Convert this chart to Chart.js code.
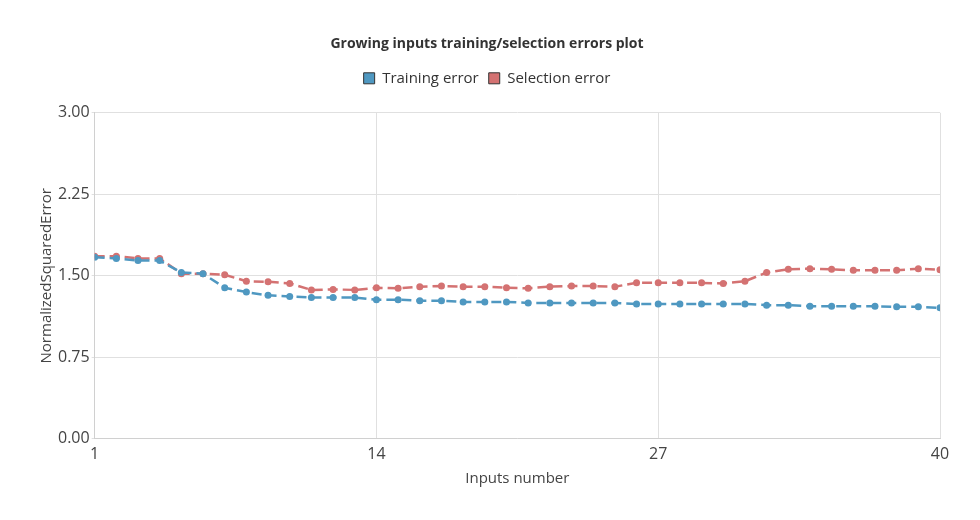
<!DOCTYPE html>
<html>
<head>
<meta charset="utf-8">
<script src="https://cdn.jsdelivr.net/npm/chart.js@4/dist/chart.umd.min.js"></script>
<style>
  html, body { margin: 0; padding: 0; background: #fff; }
  #wrap { width: 980px; height: 520px; }
</style>
</head>
<body>
<div id="wrap"><canvas id="errChart"></canvas></div>
<script>
const inputs = [];
for (let i = 1; i <= 40; i++) inputs.push(i);

const trainingError = [1.67,1.66,1.64,1.64,1.53,1.52,1.39,1.35,1.32,1.31,1.30,1.30,1.30,1.28,
  1.28,1.27,1.27,1.26,1.26,1.26,1.25,1.25,1.25,1.25,1.25,1.24,1.24,1.24,1.24,1.24,1.24,
  1.23,1.23,1.22,1.22,1.22,1.22,1.215,1.215,1.205];
const selectionError = [1.68,1.68,1.66,1.66,1.52,1.52,1.51,1.45,1.445,1.43,1.37,1.375,1.37,1.39,
  1.385,1.40,1.405,1.40,1.40,1.39,1.385,1.40,1.405,1.405,1.40,1.435,1.435,1.435,1.435,1.43,1.45,
  1.53,1.56,1.565,1.56,1.55,1.55,1.55,1.565,1.555];
const yTicks = [0, 0.75, 1.5, 2.25, 3];

const blue = "#4f98c1";
const red = "#d47272";

Chart.defaults.font.family = "'Open Sans', 'Noto Sans', sans-serif";
Chart.defaults.color = "#444";

// extra gap under the legend
const legendGap = {
  id: "legendGap",
  beforeInit(chart) {
    const fit = chart.legend.fit;
    chart.legend.fit = function () { fit.call(this); this.height += 17; };
  }
};

new Chart(document.getElementById("errChart"), {
  type: "line",
  data: {
    labels: inputs,
    datasets: [
      { label: "Training error", data: inputs.map((x, i) => ({ x: x, y: trainingError[i] })),
        borderColor: blue, backgroundColor: blue, borderWidth: 2.5, borderDash: [10, 5],
        pointRadius: 3.5, pointBorderWidth: 0, tension: 0 },
      { label: "Selection error", data: inputs.map((x, i) => ({ x: x, y: selectionError[i] })),
        borderColor: red, backgroundColor: red, borderWidth: 2.5, borderDash: [10, 5],
        pointRadius: 3.5, pointBorderWidth: 0, tension: 0 }
    ]
  },
  plugins: [legendGap],
  options: {
    responsive: true, maintainAspectRatio: false, animation: false,
    layout: { padding: { left: 34, right: 40, top: 36, bottom: 28 } },
    plugins: {
      title: { display: true, text: "Growing inputs training/selection errors plot",
        color: "#333", font: { size: 14, weight: "bold" }, padding: { top: 0, bottom: 8 } },
      legend: { position: "top",
        labels: { boxWidth: 11, boxHeight: 11, font: { size: 15 }, color: "#333", padding: 10,
          generateLabels: chart => chart.data.datasets.map((ds, i) => ({
            text: ds.label, fillStyle: ds.backgroundColor, strokeStyle: "#333",
            lineWidth: 1, datasetIndex: i, fontColor: "#333"
          })) } },
      tooltip: { enabled: false }
    },
    scales: {
      x: { type: "linear", min: 1, max: 40,
        ticks: { stepSize: 13, font: { size: 16 }, color: "#444", padding: 6 },
        grid: { color: "#e0e0e0", drawTicks: false },
        border: { color: "#d0d0d0" },
        title: { display: true, text: "Inputs number", font: { size: 15 }, color: "#444", padding: { top: 0 } } },
      y: { min: 0, max: 3,
        afterBuildTicks: axis => { axis.ticks = yTicks.map(v => ({ value: v })); },
        ticks: { font: { size: 16 }, color: "#444", padding: 2, callback: v => v.toFixed(2) },
        grid: { color: "#e0e0e0", drawTicks: true, tickLength: 3 },
        border: { color: "#d0d0d0" },
        title: { display: true, text: "NormalizedSquaredError", font: { size: 15 }, color: "#444", padding: { bottom: 0 } } }
    }
  }
});
</script>
</body>
</html>
